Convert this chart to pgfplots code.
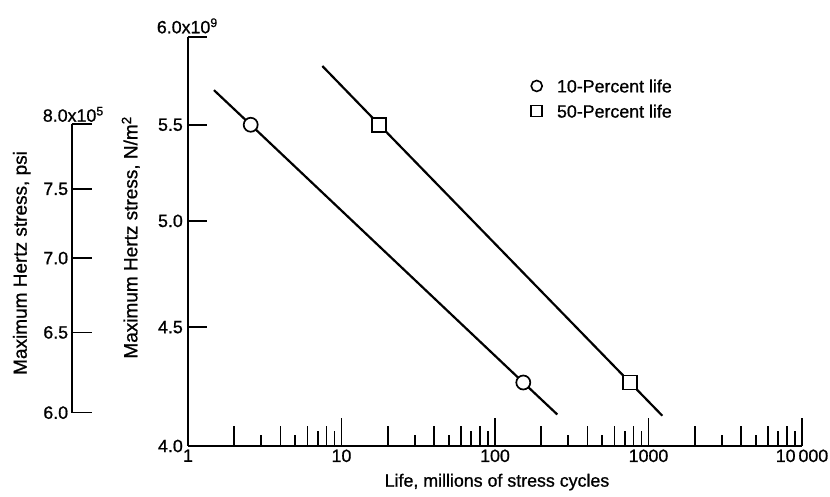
\documentclass[border=0pt]{standalone}
\usepackage{pgfplots}
\pgfplotsset{compat=1.18}
\usepackage{fontspec}
\setmainfont{Liberation Sans}
\newfontfamily\heavy{Liberation Sans}[FakeBold=0.9]
\newcommand\tf{\heavy\fontsize{17.8}{21}\selectfont}
\newcommand\lf{\heavy\fontsize{19}{22}\selectfont}
\begin{document}
\begin{tikzpicture}
\path[use as bounding box] (-188pt,-50pt) rectangle (642pt,446pt);

% ---- main axis: N/m^2 versus life ----
\begin{axis}[
  at={(0pt,0pt)}, anchor=south west,
  scale only axis, width=614pt, height=409pt,
  xmode=log, ymode=log,
  xmin=1, xmax=10000, ymin=4, ymax=6,
  axis x line*=bottom, axis y line*=left,
  axis line style={line width=2pt, -},
  tick align=inside,
  xtick={1,10,100,1000,10000},
  xticklabels={1,10,100,1000,10\,000},
  minor xtick={2,4,6,8,20,40,60,80,200,400,600,800,2000,4000,6000,8000},
  major tick length=28pt, minor tick length=20pt,
  ytick=\empty, yminorticks=false,
  extra y ticks={4,4.5,5,5.5,6},
  extra y tick labels={4.0,4.5,5.0,5.5,{}},
  extra y tick style={major tick length=19pt},
  every tick/.style={line width=1.6pt, black},
  tick label style={font=\tf},
  yticklabel style={inner sep=0pt, xshift=-5pt},
  xlabel={Life, millions of stress cycles},
  ylabel={Maximum Hertz stress, N/m\textsuperscript{2}},
  every axis x label/.style={at={(axis description cs:0.5,0)}, anchor=base, yshift=-40.7pt, xshift=2pt, font=\tf},
  every axis y label/.style={at={(axis description cs:-0.08257,0.5098)}, rotate=90, anchor=base, font=\lf},
  legend style={at={(axis description cs:0.5577,0.896)}, anchor=north west,
    draw=none, fill=none, inner sep=0pt, outer sep=0pt,
    row sep=12.3pt, column sep=14pt, font=\tf,
    nodes={inner sep=0pt, text depth=0pt}},
  legend cell align=left,
]
% lines through the test results
\addplot[black, line width=2.2pt, forget plot] coordinates {
  (1.477,5.692) (2.562,5.5) (152.9,4.26) (254.6,4.127)};
\addplot[black, line width=2.2pt, forget plot] coordinates {
  (7.50,5.830) (17.63,5.5) (757.8,4.26) (1230,4.122)};
% 10-percent life
\addplot[only marks, mark=*, mark size=7pt,
  mark options={fill=white, draw=black, line width=1.7pt},
  legend image code/.code={\draw[line width=1.6pt, fill=white] (0pt,0pt) circle (5.5pt);}]
  coordinates {(2.562,5.5) (152.9,4.26)};
\addlegendentry{10-Percent life}
% 50-percent life
\addplot[only marks, mark=square*, mark size=7pt,
  mark options={fill=white, draw=black, line width=1.7pt},
  legend image code/.code={\draw[line width=1.6pt, fill=white] (-5.5pt,-5.5pt) rectangle (5.5pt,5.5pt);}]
  coordinates {(17.63,5.5) (757.8,4.26)};
\addlegendentry{50-Percent life}
\end{axis}

% ---- overlay: the shorter minor ticks of the life scale ----
\begin{axis}[
  at={(0pt,0pt)}, anchor=south west,
  scale only axis, width=614pt, height=409pt,
  xmode=log, xmin=1, xmax=10000, ymin=0, ymax=1,
  axis x line*=bottom, axis y line=none,
  axis line style={draw=none},
  tick align=inside,
  xtick={3,5,30,50,300,500,3000,5000}, xticklabels={},
  minor xtick={7,9,70,90,700,900,7000,9000},
  major tick length=11pt, minor tick length=15pt,
  every tick/.style={line width=1.6pt, black},
  ytick=\empty,
]
\end{axis}

% ---- psi scale ----
\begin{axis}[
  at={(-116.3pt,33.3pt)}, anchor=south west,
  scale only axis, width=10pt, height=288.7pt,
  xmin=0, xmax=1, ymode=log, ymin=6, ymax=8,
  axis y line*=left, axis x line=none,
  axis line style={line width=2pt, -},
  tick align=inside,
  ytick={6,6.5,7,7.5,8}, yticklabels={6.0,6.5,7.0,7.5,{}},
  yminorticks=false,
  major tick length=20pt,
  every tick/.style={line width=1.6pt, black},
  yticklabel style={inner sep=0pt, xshift=-3.4pt, font=\tf},
  ylabel={Maximum Hertz stress, psi},
  every axis y label/.style={at={(axis description cs:-4.5,0.5185)}, rotate=90, anchor=base, font=\lf},
]
\end{axis}

\node[anchor=base west, inner sep=0pt, font=\tf] at (-31.3pt,412.7pt) {6.0x10\textsuperscript{9}};
\node[anchor=base west, inner sep=0pt, font=\tf] at (-145.3pt,324.3pt) {8.0x10\textsuperscript{5}};
\end{tikzpicture}
\end{document}
